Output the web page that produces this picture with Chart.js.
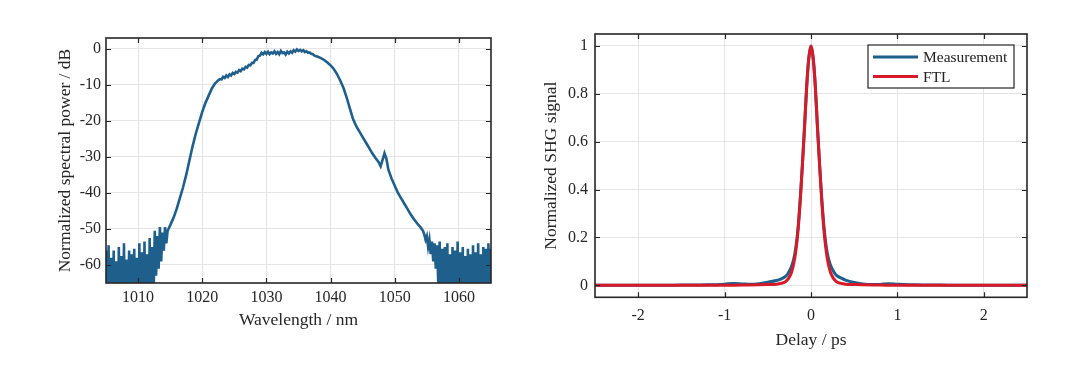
<!DOCTYPE html>
<html>
<head>
<meta charset="utf-8">
<script src="https://cdn.jsdelivr.net/npm/chart.js@4"></script>
<style>
  html, body { margin: 0; padding: 0; background: #fff; }
  .panel { position: absolute; top: 0; width: 540px; height: 375px; }
</style>
</head>
<body>
<div class="panel" style="left:0"><canvas id="spectrum" width="540" height="375"></canvas></div>
<div class="panel" style="left:540px"><canvas id="autocorr" width="540" height="375"></canvas></div>
<script>
// spectrum (left panel)
var wavelength = [
  1005.0, 1005.2, 1005.4, 1005.6, 1005.8, 1006.0, 1006.2, 1006.4, 1006.6, 1006.8,
  1007.0, 1007.2, 1007.4, 1007.6, 1007.8, 1008.0, 1008.2, 1008.4, 1008.6, 1008.8,
  1009.0, 1009.2, 1009.4, 1009.6, 1009.8, 1010.0, 1010.2, 1010.4, 1010.6, 1010.8,
  1011.0, 1011.2, 1011.4, 1011.6, 1011.8, 1012.0, 1012.2, 1012.4, 1012.6, 1012.8,
  1013.0, 1013.2, 1013.4, 1013.6, 1013.8, 1014.0, 1014.2, 1014.4, 1014.6,
  1015.0, 1015.5, 1016.0, 1016.5, 1017.0, 1017.5, 1018.0, 1018.5, 1019.0, 1019.5,
  1020.0, 1020.5, 1021.0, 1021.5, 1022.0, 1022.25,
  1022.5, 1022.75, 1023.0, 1023.25, 1023.5, 1023.75, 1024.0, 1024.25, 1024.5, 1024.75,
  1025.0, 1025.25, 1025.5, 1025.75, 1026.0, 1026.25, 1026.5, 1026.75, 1027.0, 1027.25,
  1027.5, 1027.75, 1028.0, 1028.25, 1028.5, 1028.75, 1029.0, 1029.25, 1029.5, 1029.75,
  1030.0, 1030.25, 1030.5, 1030.75, 1031.0, 1031.25, 1031.5, 1031.75, 1032.0, 1032.25,
  1032.5, 1032.75, 1033.0, 1033.25, 1033.5, 1033.75, 1034.0, 1034.25, 1034.5, 1034.75,
  1035.0, 1035.25, 1035.5, 1035.75, 1036.0, 1036.25, 1036.5, 1036.75, 1037.0, 1037.25,
  1037.5,
  1038.0, 1038.5, 1039.0, 1039.5,
  1040.0, 1040.5, 1041.0, 1041.5, 1042.0, 1042.5, 1043.0, 1043.5, 1044.0, 1044.5,
  1045.0, 1045.5, 1046.0, 1046.5, 1047.0, 1047.5, 1047.8, 1048.1, 1048.4, 1048.7,
  1049.0, 1049.5, 1050.0, 1050.5, 1051.0, 1051.5, 1052.0, 1052.5, 1053.0, 1053.5,
  1054.0, 1054.4,
  1054.6, 1054.8, 1055.0, 1055.2, 1055.4, 1055.6, 1055.8, 1056.0, 1056.2, 1056.4,
  1056.6, 1056.8, 1057.0, 1057.2, 1057.4, 1057.6, 1057.8, 1058.0, 1058.2, 1058.4,
  1058.6, 1058.8, 1059.0, 1059.2, 1059.4, 1059.6, 1059.8, 1060.0, 1060.2, 1060.4,
  1060.6, 1060.8, 1061.0, 1061.2, 1061.4, 1061.6, 1061.8, 1062.0, 1062.2, 1062.4,
  1062.6, 1062.8, 1063.0, 1063.2, 1063.4, 1063.6, 1063.8, 1064.0, 1064.2, 1064.4,
  1064.6, 1064.8, 1065.0
];
var powerDb = [
  -56, -88, -54.5, -92, -58, -86, -56, -95, -59, -89,
  -55, -93, -57.5, -87, -54, -91, -58.5, -94, -56, -88,
  -57, -92, -55.5, -86, -58, -95, -54, -90, -56.5, -87,
  -53.5, -93, -57, -89, -52.5, -94, -55, -70, -50.5, -63,
  -52, -61, -49.5, -59, -51, -56, -49.5, -54, -50.5,
  -49, -47, -44.5, -41.5, -38.5, -35, -31, -27, -23.5, -20.5,
  -17.5, -15, -13, -11, -9.6, -9.2,
  -8.7, -8.4, -8.5, -7.8, -8.1, -7.4, -7.8, -7.1, -7.4, -6.7,
  -7.0, -6.4, -6.6, -5.9, -6.2, -5.5, -5.7, -5.0, -5.2, -4.5,
  -4.6, -3.9, -3.9, -3.1, -3.0, -2.0, -1.9, -1.1, -1.5, -0.9,
  -1.4, -0.8, -1.5, -1.0, -1.3, -0.7, -1.4, -0.9, -1.5, -0.6,
  -1.2, -1.0, -1.6, -0.8, -1.3, -0.7, -1.1, -0.4, -0.8, -0.2,
  -0.6, -0.3, -0.7, -0.4, -0.9, -0.7, -1.1, -1.0, -1.4, -1.5,
  -1.9,
  -2.2, -2.6, -3.1, -3.8,
  -4.6, -5.6, -7.0, -8.8, -10.8, -13.5, -16.5, -19.5, -21.5, -23,
  -24.5, -26, -27.5, -29, -30.3, -31.5, -32.6, -30.8, -29, -30.5,
  -33.5, -36, -38, -40, -41.5, -43, -44.5, -46, -47.3, -48.5,
  -49.5, -50.5,
  -51.5, -53, -52, -55, -53, -57, -53.5, -59, -54, -61,
  -54.5, -66, -53.5, -75, -55.5, -90, -55, -86, -54, -93,
  -57, -88, -55, -95, -56, -87, -53.5, -92, -56.5, -89,
  -55, -94, -57.5, -86, -55.5, -91, -57, -88, -54.5, -95,
  -56.5, -87, -54, -92, -57, -89, -55, -94, -55.5, -86,
  -54, -91, -55.5
];
var wavelengthTicks = [1010, 1020, 1030, 1040, 1050, 1060];
var powerTicks = [-60, -50, -40, -30, -20, -10, 0];

// autocorrelation (right panel)
var delayMeas = [-2.5, -2, -1.5, -1.2, -1.0, -0.9, -0.8, -0.7, -0.6, -0.5, -0.4, -0.35, -0.3, -0.275, -0.25,
  -0.225, -0.2, -0.175, -0.15, -0.125, -0.1, -0.075, -0.05, -0.025, 0, 0.025, 0.05, 0.075, 0.1, 0.125,
  0.15, 0.175, 0.2, 0.225, 0.25, 0.275, 0.3, 0.35, 0.4, 0.5, 0.6, 0.7, 0.8, 0.9, 1.0, 1.2, 1.5, 2, 2.5];
var shgMeas = [0, 0, 0.001, 0.002, 0.005, 0.008, 0.006, 0.004, 0.007, 0.013, 0.02, 0.026, 0.036, 0.045, 0.06,
  0.08, 0.11, 0.16, 0.24, 0.36, 0.5, 0.66, 0.83, 0.95, 1.0, 0.95, 0.83, 0.66, 0.5, 0.36,
  0.245, 0.165, 0.115, 0.085, 0.065, 0.05, 0.04, 0.03, 0.022, 0.012, 0.006, 0.003, 0.004, 0.007, 0.005, 0.002, 0.001, 0, 0];
var delayFtl = [-2.5, -2, -1.5, -1, -0.8, -0.6, -0.5, -0.4, -0.35, -0.3, -0.275, -0.25, -0.225, -0.2, -0.175,
  -0.15, -0.125, -0.1, -0.075, -0.05, -0.025, 0, 0.025, 0.05, 0.075, 0.1, 0.125, 0.15, 0.175, 0.2,
  0.225, 0.25, 0.275, 0.3, 0.35, 0.4, 0.5, 0.6, 0.8, 1, 1.5, 2, 2.5];
var shgFtl = [0, 0, 0, 0, 0.001, 0.002, 0.003, 0.005, 0.008, 0.014, 0.022, 0.035, 0.055, 0.09, 0.145,
  0.23, 0.35, 0.5, 0.66, 0.83, 0.95, 1.0, 0.95, 0.83, 0.66, 0.5, 0.35, 0.23, 0.145, 0.09,
  0.055, 0.035, 0.022, 0.014, 0.008, 0.005, 0.003, 0.002, 0.001, 0, 0, 0, 0];
var delayTicks = [-2, -1, 0, 1, 2];
var shgTicks = [0, 0.2, 0.4, 0.6, 0.8, 1];

var blue = '#1f5f8b';
var red = '#d61a28';
var serif = "'Liberation Serif', 'DejaVu Serif', serif";

function toPoints(xs, ys) {
    return xs.map((x, i) => ({ x: x, y: ys[i] }));
}

// black box + MATLAB style inner tick marks
var frame = {
    id: 'frame',
    afterDatasetsDraw(chart) {
        const ctx = chart.ctx;
        const a = chart.chartArea;
        const sx = chart.scales.x;
        const sy = chart.scales.y;
        const len = 5;
        ctx.save();
        ctx.strokeStyle = '#262626';
        ctx.lineWidth = 1.2;
        ctx.beginPath();
        sx.ticks.forEach(t => {
            const px = Math.round(sx.getPixelForValue(t.value)) + 0.5;
            ctx.moveTo(px, a.bottom); ctx.lineTo(px, a.bottom - len);
            ctx.moveTo(px, a.top); ctx.lineTo(px, a.top + len);
        });
        sy.ticks.forEach(t => {
            const py = Math.round(sy.getPixelForValue(t.value)) + 0.5;
            ctx.moveTo(a.left, py); ctx.lineTo(a.left + len, py);
            ctx.moveTo(a.right, py); ctx.lineTo(a.right - len, py);
        });
        ctx.stroke();
        ctx.lineWidth = 1.6;
        ctx.strokeRect(a.left, a.top, a.right - a.left, a.bottom - a.top);
        ctx.restore();
    }
};

// legend box in the upper right corner
var boxLegend = {
    id: 'boxLegend',
    afterDraw(chart) {
        const ctx = chart.ctx;
        const a = chart.chartArea;
        const w = 146, h = 43;
        const x0 = a.right - 13 - w;
        const y0 = a.top + 11;
        ctx.save();
        ctx.fillStyle = '#fff';
        ctx.fillRect(x0, y0, w, h);
        ctx.strokeStyle = '#262626';
        ctx.lineWidth = 1.2;
        ctx.strokeRect(x0, y0, w, h);
        ctx.font = '15.5px ' + serif;
        ctx.textBaseline = 'middle';
        chart.data.datasets.forEach((ds, i) => {
            const yy = y0 + 12 + i * 19.5;
            ctx.strokeStyle = ds.borderColor;
            ctx.lineWidth = 3;
            ctx.beginPath();
            ctx.moveTo(x0 + 5, yy);
            ctx.lineTo(x0 + 50, yy);
            ctx.stroke();
            ctx.fillStyle = '#222';
            ctx.fillText(ds.label, x0 + 55, yy + 1);
        });
        ctx.restore();
    }
};

function axisX(ticks, min, max, title, tickPad, height) {
    return {
        type: 'linear',
        min: min,
        max: max,
        afterBuildTicks: s => { s.ticks = ticks.map(v => ({ value: v })); },
        afterFit: s => { s.height = height; },
        grid: { color: '#e4e4e4', lineWidth: 1, drawTicks: false },
        border: { display: false },
        ticks: { color: '#262626', padding: tickPad, maxRotation: 0, callback: v => String(v), font: { family: serif, size: 16 } },
        title: { display: true, text: title, color: '#262626', padding: 0, font: { family: serif, size: 17.5 } }
    };
}

function axisY(ticks, min, max, title, width, titlePad, tickPad) {
    return {
        min: min,
        max: max,
        afterBuildTicks: s => { s.ticks = ticks.map(v => ({ value: v })); },
        afterFit: s => { s.width = width; },
        grid: { color: '#e4e4e4', lineWidth: 1, drawTicks: false },
        border: { display: false },
        ticks: { color: '#262626', padding: tickPad, callback: v => String(v), font: { family: serif, size: 16 } },
        title: { display: true, text: title, color: '#262626', padding: { top: titlePad, bottom: 0 }, font: { family: serif, size: 17.5 } }
    };
}

new Chart(document.getElementById('spectrum'), {
    type: 'line',
    data: {
        datasets: [{
            label: 'Spectrum',
            data: toPoints(wavelength, powerDb),
            borderColor: blue,
            borderWidth: 2.6,
            pointRadius: 0,
            tension: 0
        }]
    },
    options: {
        responsive: false,
        animation: false,
        layout: { padding: { left: 0, right: 49, top: 38, bottom: 44.5 } },
        scales: {
            x: axisX(wavelengthTicks, 1005, 1065, 'Wavelength / nm', 5.4, 47.5),
            y: axisY(powerTicks, -65, 3, 'Normalized spectral power / dB', 106, 54.5, 5)
        },
        plugins: { legend: { display: false }, tooltip: { enabled: false } }
    },
    plugins: [frame]
});

new Chart(document.getElementById('autocorr'), {
    type: 'line',
    data: {
        datasets: [{
            label: 'Measurement',
            data: toPoints(delayMeas, shgMeas),
            borderColor: blue,
            borderWidth: 3,
            pointRadius: 0,
            cubicInterpolationMode: 'monotone',
            order: 2
        }, {
            label: 'FTL',
            data: toPoints(delayFtl, shgFtl),
            borderColor: red,
            borderWidth: 3,
            pointRadius: 0,
            cubicInterpolationMode: 'monotone',
            order: 1
        }]
    },
    options: {
        responsive: false,
        animation: false,
        layout: { padding: { left: 0, right: 53, top: 34, bottom: 24.5 } },
        scales: {
            x: axisX(delayTicks, -2.5, 2.5, 'Delay / ps', 8.4, 53.2),
            y: axisY(shgTicks, -0.05, 1.05, 'Normalized SHG signal', 55, 1.2, 7)
        },
        plugins: { legend: { display: false }, tooltip: { enabled: false } }
    },
    plugins: [frame, boxLegend]
});
</script>
</body>
</html>
